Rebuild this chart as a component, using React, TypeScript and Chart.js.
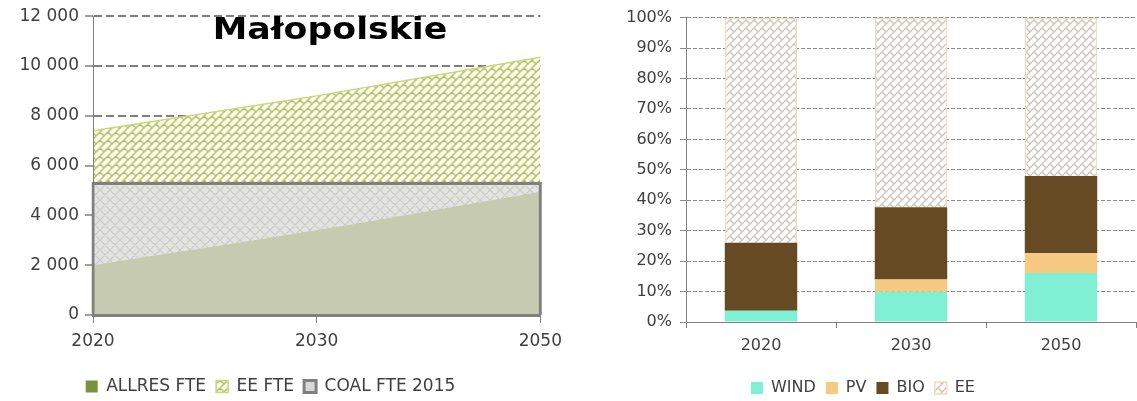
import React, { useEffect, useRef } from 'react';
import { Chart, registerables } from 'chart.js';

Chart.register(...registerables);

// ---------- data ----------
const areaYears = ['2020', '2030', '2050'];
const allresFte = [2000, 3400, 4950];
const eeFte = [7400, 8800, 10350];
const coalFte2015 = 5280;
const leftYTicks = [0, 2000, 4000, 6000, 8000, 10000, 12000];
const leftLegendColors = ['#77933c', null, '#d9d9d9'];

const barYears = ['2020', '2030', '2050'];
const windShare = [3.7, 9.9, 16.1];
const pvShare = [0, 4.1, 6.5];
const bioShare = [22.3, 23.7, 25.4];
const eeShare = [74.0, 62.3, 52.0];
const pctTicks = [0, 10, 20, 30, 40, 50, 60, 70, 80, 90, 100];

const FONT = 'DejaVu Sans';
const TXT = '#404040';

const fmtThousands = (v: number) => String(v).replace(/\B(?=(\d{3})+(?!\d))/g, ' ');

function brickPattern(bg: string, fg: string, lw: number): CanvasPattern | string {
  const S = 16;
  const U = 8;
  const cv = document.createElement('canvas');
  cv.width = S;
  cv.height = S;
  const g = cv.getContext('2d');
  if (!g) return bg;
  g.fillStyle = bg;
  g.fillRect(0, 0, S, S);
  g.strokeStyle = fg;
  g.lineWidth = lw;
  g.beginPath();
  for (let c = -2 * S; c <= 4 * S; c += U) {
    g.moveTo(c + S, -S);
    g.lineTo(c - 2 * S, 2 * S);
    const idx = Math.round(c / U);
    const off = ((idx % 2) + 2) % 2 === 0 ? U : 0;
    for (let d = -4 * S + off; d <= 4 * S; d += 2 * U) {
      g.moveTo((c + d) / 2, (c - d) / 2);
      g.lineTo((c + U + d) / 2, (c + U - d) / 2);
    }
  }
  g.stroke();
  return g.createPattern(cv, 'repeat') || bg;
}

function crossPattern(bg: string, fg: string): CanvasPattern | string {
  const S = 10;
  const cv = document.createElement('canvas');
  cv.width = S;
  cv.height = S;
  const g = cv.getContext('2d');
  if (!g) return bg;
  g.fillStyle = bg;
  g.fillRect(0, 0, S, S);
  g.strokeStyle = fg;
  g.lineWidth = 1.2;
  g.beginPath();
  for (let k = -2; k <= 4; k++) {
    const c = k * S;
    g.moveTo(c + S, -S);
    g.lineTo(c - 2 * S, 2 * S);
    g.moveTo(c - S, -S);
    g.lineTo(c + 2 * S, 2 * S);
  }
  g.stroke();
  return g.createPattern(cv, 'repeat') || bg;
}

function leftConfig(): any {
  const eePat = brickPattern('#fdfde8', '#b3c274', 1.5);
  const coalPat = crossPattern('#e3e4df', '#cacbc5');
  const coalPts = [
    { x: areaYears[0], y: 0 },
    { x: areaYears[0], y: coalFte2015 },
    { x: areaYears[areaYears.length - 1], y: coalFte2015 },
    { x: areaYears[areaYears.length - 1], y: 0 },
  ];
  return {
    type: 'line',
    data: {
      labels: areaYears,
      datasets: [
        {
          label: 'ALLRES FTE',
          data: allresFte,
          backgroundColor: '#c5cab1',
          borderColor: '#c5cab1',
          borderWidth: 0,
          fill: 'origin',
          pointRadius: 0,
          cubicInterpolationMode: 'monotone',
          order: 1,
        },
        {
          label: 'EE FTE',
          data: eeFte,
          backgroundColor: eePat,
          borderColor: '#c8d87c',
          borderWidth: 1.5,
          fill: 'origin',
          pointRadius: 0,
          order: 3,
        },
        {
          label: 'COAL FTE 2015',
          data: coalPts,
          backgroundColor: '#d9d9d9',
          borderColor: '#808080',
          borderWidth: 3,
          fill: false,
          pointRadius: 0,
          order: 0,
        },
        {
          label: '',
          data: coalPts,
          backgroundColor: coalPat,
          borderWidth: 0,
          fill: 'origin',
          pointRadius: 0,
          order: 2,
        },
      ],
    },
    options: {
      responsive: false,
      animation: false,
      events: [],
      layout: { padding: { top: 15, right: 29, left: 0, bottom: 0 } },
      plugins: {
        tooltip: { enabled: false },
        legend: {
          position: 'bottom',
          labels: {
            boxWidth: 12,
            boxHeight: 12,
            padding: 10,
            color: TXT,
            font: { family: FONT, size: 17 },
            filter: (item: any) => item.text !== '',
            sort: (a: any, b: any) => a.datasetIndex - b.datasetIndex,
            generateLabels: (chart: any) => {
              const items = (Chart as any).defaults.plugins.legend.labels.generateLabels(chart);
              items.forEach((it: any) => {
                const col = leftLegendColors[it.datasetIndex];
                if (it.datasetIndex === 0 && col) {
                  it.fillStyle = col;
                  it.strokeStyle = col;
                  it.lineWidth = 0;
                }
              });
              return items;
            },
          },
        },
      },
      scales: {
        x: {
          type: 'category',
          offset: false,
          grid: { display: true, drawOnChartArea: false, drawTicks: true, tickLength: 8, color: '#808080', lineWidth: 1 },
          border: { display: true, color: '#808080', width: 3, z: 1 },
          ticks: { color: TXT, font: { family: FONT, size: 17 }, padding: 8, maxRotation: 0, autoSkip: false },
          afterFit: (s: any) => { s.height = 53; },
        },
        y: {
          min: 0,
          max: 12000,
          afterBuildTicks: (s: any) => { s.ticks = leftYTicks.map((v) => ({ value: v })); },
          grid: { color: '#7f7f7f', lineWidth: 2, tickLength: 8, drawTicks: true, tickWidth: 1.5 },
          border: { display: true, color: '#808080', width: 1, dash: [8, 4], z: 1 },
          ticks: { color: TXT, font: { family: FONT, size: 17 }, padding: 6, callback: (v: any) => fmtThousands(Number(v)) },
          afterFit: (s: any) => { s.width = 93; },
        },
      },
    },
  };
}

function rightConfig(): any {
  const eePat = brickPattern('#fffefa', '#c9c5bd', 1.3);
  return {
    type: 'bar',
    data: {
      labels: barYears,
      datasets: [
        { label: 'WIND', data: windShare, backgroundColor: '#7ff0d4', borderWidth: 0 },
        { label: 'PV', data: pvShare, backgroundColor: '#f6ca83', borderWidth: 0 },
        { label: 'BIO', data: bioShare, backgroundColor: '#654a24', borderWidth: 0 },
        { label: 'EE', data: eeShare, backgroundColor: eePat, borderColor: '#f1dcc0', borderWidth: 1.5 },
      ],
    },
    options: {
      responsive: false,
      animation: false,
      events: [],
      layout: { padding: { top: 15, right: 1, left: 0, bottom: 0 } },
      datasets: { bar: { categoryPercentage: 1, barPercentage: 0.483 } },
      plugins: {
        tooltip: { enabled: false },
        legend: {
          position: 'bottom',
          labels: { boxWidth: 12, boxHeight: 12, padding: 10, color: TXT, font: { family: FONT, size: 16 } },
        },
      },
      scales: {
        x: {
          stacked: true,
          grid: { offset: true, drawOnChartArea: false, drawTicks: true, tickLength: 6, color: '#808080' },
          border: { color: '#808080', z: 1 },
          ticks: { color: TXT, font: { family: FONT, size: 16 }, padding: 8 },
          afterFit: (s: any) => { s.height = 48; },
        },
        y: {
          stacked: true,
          min: 0,
          max: 100,
          afterBuildTicks: (s: any) => { s.ticks = pctTicks.map((v) => ({ value: v })); },
          grid: { color: '#8c8c8c', lineWidth: 1, tickLength: 6 },
          border: { color: '#808080', dash: [4, 2], z: 1 },
          ticks: { color: TXT, font: { family: FONT, size: 16 }, padding: 8, callback: (v: any) => v + '%' },
          afterFit: (s: any) => { s.width = 96; },
        },
      },
    },
  };
}

export default function App() {
  const leftRef = useRef<HTMLCanvasElement>(null);
  const rightRef = useRef<HTMLCanvasElement>(null);

  useEffect(() => {
    const lc = new Chart(leftRef.current as HTMLCanvasElement, leftConfig());
    const rc = new Chart(rightRef.current as HTMLCanvasElement, rightConfig());
    return () => {
      lc.destroy();
      rc.destroy();
    };
  }, []);

  return (
    <div style={{ position: 'absolute', left: 0, top: 0, width: 1137, height: 401, overflow: 'hidden', background: '#ffffff' }}>
      <canvas ref={leftRef} width={570} height={405} style={{ position: 'absolute', left: 0, top: 0 }} />
      <canvas ref={rightRef} width={547} height={406} style={{ position: 'absolute', left: 590, top: 0 }} />
      <div
        style={{
          position: 'absolute',
          left: 330,
          top: 13,
          transform: 'translateX(-50%) scaleX(1.12)',
          fontFamily: FONT,
          fontWeight: 'bold',
          fontSize: 31,
          lineHeight: '31px',
          color: '#000',
          whiteSpace: 'nowrap',
          pointerEvents: 'none',
        }}
      >
        Małopolskie
      </div>
    </div>
  );
}
